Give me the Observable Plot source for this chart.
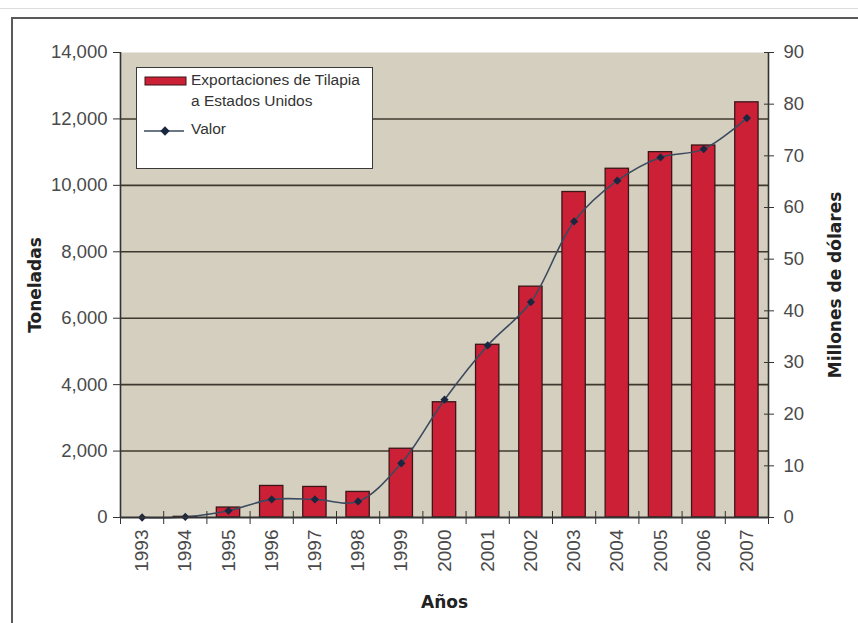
<!DOCTYPE html>
<html>
<head>
<meta charset="utf-8">
<script src="https://cdn.jsdelivr.net/npm/d3@7"></script>
<script src="https://cdn.jsdelivr.net/npm/@observablehq/plot@0.6"></script>
<style>
  body { margin: 0; background: #fff; }
  #wrap { position: relative; width: 858px; height: 623px; overflow: hidden; background: #fff; }
  #faint { position: absolute; left: 0; top: 8px; width: 858px; height: 0; border-top: 1px solid #ddd; }
  #frame { position: absolute; left: 11px; top: 17px; width: 880px; height: 640px; border: 2px solid #5a5a5a; box-sizing: border-box; }
  #chart { position: absolute; left: 0; top: 0; }
  #legend { position: absolute; left: 136px; top: 67px; width: 237px; height: 102px; background: #fff;
            border: 1.5px solid #3a3a3a; box-sizing: border-box;
            font-family: "Liberation Sans", Arial, sans-serif; font-size: 15.5px; color: #333; }
  #legend .t { position: absolute; left: 54px; white-space: nowrap; }
  #legend svg { position: absolute; left: 0; top: 0; }
</style>
</head>
<body>
<div id="wrap">
  <div id="faint"></div>
  <div id="frame"></div>
  <div id="chart"></div>
  <div id="legend"></div>
</div>
<script>
// ---- data ----
const years = [1993, 1994, 1995, 1996, 1997, 1998, 1999, 2000, 2001, 2002, 2003, 2004, 2005, 2006, 2007];
const toneladas = [0, 20, 300, 950, 920, 770, 2070, 3470, 5200, 6950, 9800, 10500, 11000, 11200, 12500];
const valor = [0, 0.1, 1.3, 3.5, 3.5, 3.1, 10.5, 22.8, 33.3, 41.7, 57.3, 65.2, 69.7, 71.3, 77.3];
const leftTicks = [0, 2000, 4000, 6000, 8000, 10000, 12000, 14000];
const rightTicks = [0, 10, 20, 30, 40, 50, 60, 70, 80, 90];
const seriesNames = ["Exportaciones de Tilapia", "a Estados Unidos", "Valor"];
const axisTitles = { left: "Toneladas", right: "Millones de dólares", bottom: "Años" };

const yMax = 14000, vMax = 90, k = yMax / vMax;
const data = years.map((y, i) => ({ year: y, t: toneladas[i], v: valor[i] }));
const boundaries = years.map(y => y - 0.5).concat([years[years.length - 1] + 0.5]);
const gridLines = leftTicks.filter(t => t > 0 && t < yMax);

const barColor = "#cc2036", barStroke = "#3a1618";
const lineColor = "#3b4a5e", dotColor = "#1b2740";
const tickFont = "Liberation Sans, Arial, sans-serif";
const titleFont = "DejaVu Sans, Verdana, sans-serif";

const chart = Plot.plot({
  width: 858,
  height: 623,
  marginLeft: 120,
  marginRight: 90,
  marginTop: 52,
  marginBottom: 106,
  x: { type: "linear", domain: [years[0] - 0.5, years[years.length - 1] + 0.5] },
  y: { domain: [0, yMax] },
  style: { fontFamily: tickFont, background: "transparent", color: "#4a4a4a" },
  marks: [
    Plot.frame({ fill: "#d5cfbf", stroke: null }),
    Plot.ruleY(gridLines, { stroke: "#3e392f", strokeWidth: 1.6 }),
    Plot.rectY(data, { x1: d => d.year - 0.27, x2: d => d.year + 0.27, y: "t",
                       fill: barColor, stroke: barStroke, strokeWidth: 1.3 }),
    Plot.line(data, { x: "year", y: d => d.v * k, stroke: lineColor, strokeWidth: 1.6, curve: "catmull-rom" }),
    Plot.dot(data, { x: "year", y: d => d.v * k, symbol: "square", rotate: 45, r: 3.3, fill: dotColor, stroke: null }),
    // axis lines
    Plot.ruleX([years[0] - 0.5], { stroke: "#333", strokeWidth: 1.6 }),
    Plot.ruleX([years[years.length - 1] + 0.5], { stroke: "#333", strokeWidth: 1.6 }),
    Plot.ruleY([0], { stroke: "#333", strokeWidth: 1.8 }),
    // left axis
    Plot.axisY({ ticks: leftTicks, tickSize: 7, tickPadding: 6, tickFormat: d3.format(","),
                 fontSize: 18.5, fill: "#4a4a4a", stroke: "#333", label: null }),
    // right axis
    Plot.axisY({ anchor: "right", ticks: rightTicks.map(v => v * k), tickFormat: d => Math.round(d / k),
                 tickSize: 10, tickPadding: 10, dx: -5, fontSize: 18.5, fill: "#4a4a4a", stroke: "#333", label: null }),
    // x axis boundary ticks
    Plot.axisX({ ticks: boundaries, tickSize: 13, dy: -6, tickFormat: () => "", stroke: "#333", label: null }),
    // x labels
    Plot.axisX({ ticks: years, tickSize: 0, tickPadding: 12, tickRotate: -90, tickFormat: d => String(d),
                 fontSize: 19, fill: "#4a4a4a", label: null }),
    // axis titles
    Plot.text([axisTitles.left], { frameAnchor: "left", dx: -85, rotate: -90, textAnchor: "middle",
                                   fontSize: 17, fontWeight: "bold", fontFamily: titleFont, fill: "#222" }),
    Plot.text([axisTitles.right], { frameAnchor: "right", dx: 67, rotate: -90, textAnchor: "middle",
                                    fontSize: 17, fontWeight: "bold", fontFamily: titleFont, fill: "#222" }),
    Plot.text([axisTitles.bottom], { frameAnchor: "bottom", dy: 90, fontSize: 17, fontWeight: "bold",
                                     fontFamily: titleFont, fill: "#222" })
  ]
});
document.getElementById("chart").appendChild(chart);

// legend
const lg = document.getElementById("legend");
const ns = "http://www.w3.org/2000/svg";
const svg = document.createElementNS(ns, "svg");
svg.setAttribute("width", 237); svg.setAttribute("height", 102);
svg.innerHTML =
  `<rect x="8" y="9" width="41" height="8" fill="${barColor}" stroke="${barStroke}" stroke-width="1"/>` +
  `<line x1="7" x2="47" y1="63" y2="63" stroke="${lineColor}" stroke-width="1.6"/>` +
  `<rect x="-3.3" y="-3.3" width="6.6" height="6.6" transform="translate(28,63) rotate(45)" fill="${dotColor}"/>`;
lg.appendChild(svg);
[[seriesNames[0], 3], [seriesNames[1], 24], [seriesNames[2], 52]].forEach(([s, top]) => {
  const e = document.createElement("div");
  e.className = "t"; e.style.top = top + "px"; e.textContent = s;
  lg.appendChild(e);
});
</script>
</body>
</html>
